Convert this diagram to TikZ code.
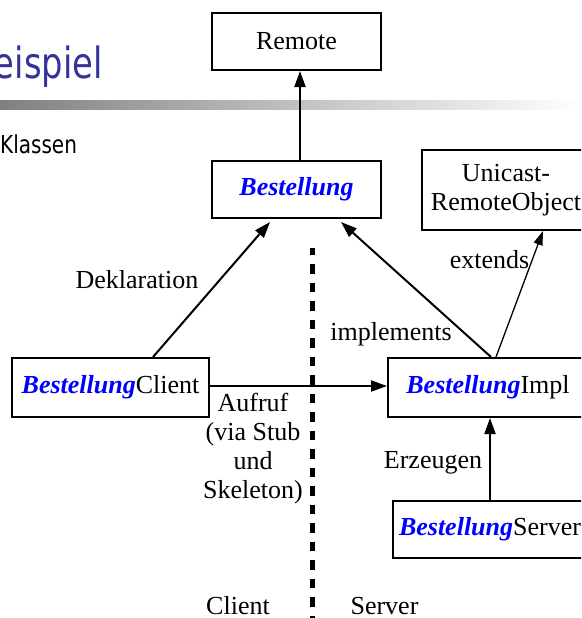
\documentclass[tikz,border=0pt]{standalone}
\usepackage{fontspec}
\setmainfont{Liberation Serif}
\newfontfamily\slidefont{DejaVu Sans}
\usetikzlibrary{arrows.meta,calc}
\definecolor{slideblue}{RGB}{51,51,153}
\definecolor{ifaceblue}{RGB}{0,0,255}
\definecolor{barstart}{RGB}{128,128,128}
% interface name, set bold italic in blue
\newcommand{\iface}{\textcolor{ifaceblue}{\textbf{\textit{Bestellung}}}}

\begin{document}
\begin{tikzpicture}[x=1pt,y=-1pt,
  every node/.style={font=\fontsize{26}{29}\selectfont},
  classbox/.style={draw, line width=2pt, fill=white, inner sep=0pt, rectangle},
  arr/.style={line width=2pt, -{Triangle[length=16pt,width=11pt]}},
  thinarr/.style={line width=1.3pt, -{Triangle[length=14pt,width=9pt]}},
  lbl/.style={inner sep=0pt, anchor=base},
  divider/.style={line width=5pt, dash pattern=on 9.5pt off 9pt, dash phase=2.5pt},
]
\useasboundingbox (0,0) rectangle (581,618);
\clip (0,0) rectangle (581,618);

% slide heading and rule
\shade[left color=barstart, right color=white] (0,100) rectangle (581,109);
\node[anchor=base east, inner sep=0pt, text=slideblue,
      font=\slidefont\fontsize{43}{50}\selectfont] (title) at (103,78)
      {\scalebox{0.786}[1]{eispiel}};
\node[anchor=base west, inner sep=0pt,
      font=\slidefont\fontsize{24.7}{28}\selectfont] (sub) at (0,153)
      {\scalebox{0.81}[1]{Klassen}};

% client / server divider
\coordinate (divtop) at (312.5,248);
\coordinate (divbot) at (312.5,630);
\draw[divider] (divtop) -- (divbot);

% classes
\node[classbox, minimum width=169pt, minimum height=57pt] (remote) at (296.5,41.5) {Remote};
\node[classbox, minimum width=169pt, minimum height=57pt] (best) at (296.5,189.5) {\iface};
\node[classbox, minimum width=168pt, minimum height=80pt, align=center] (unicast) at (506,190)
      {Unicast-\\RemoteObject};
\node[classbox, minimum width=197pt, minimum height=59pt] (client) at (110.5,387.5) {\iface Client};
\node[classbox, minimum width=200pt, minimum height=59pt] (impl) at (488,387.5) {\iface Impl};
\node[classbox, minimum width=194pt, minimum height=57pt] (server) at (490,529.5) {\iface Server};

% relations
\draw[arr] ($(best.north)+(3.5,0)$) -- ($(remote.south)+(3.5,0)$);
\draw[arr] ($(client.north west)+(142,0)$) -- ($(best.south west)+(59,3)$);
\draw[arr] ($(impl.north west)+(104,0)$) -- ($(best.south west)+(130,3)$);
\draw[thinarr] ($(impl.north west)+(109,0)$) -- ($(unicast.south west)+(122,0)$);
\draw[arr] ($(client.east)+(0,-1.5)$) -- ($(impl.west)+(0,-1.5)$);
\draw[arr] (server.north) -- (server.north |- impl.south);

% labels
\node[lbl] (ldekl) at (137,288) {Deklaration};
\node[lbl, anchor=base east] (limpl) at (452,340) {implements};
\node[lbl] (lext) at (489.5,268) {extends};
\node[inner sep=0pt, align=center] (lcall) at (253,449) {Aufruf\\(via Stub\\und\\Skeleton)};
\node[lbl] (lerz) at (433,468) {Erzeugen};
\node[lbl] (lclient) at (238,614) {Client};
\node[lbl] (lserver) at (384.5,614) {Server};
\end{tikzpicture}
\end{document}
